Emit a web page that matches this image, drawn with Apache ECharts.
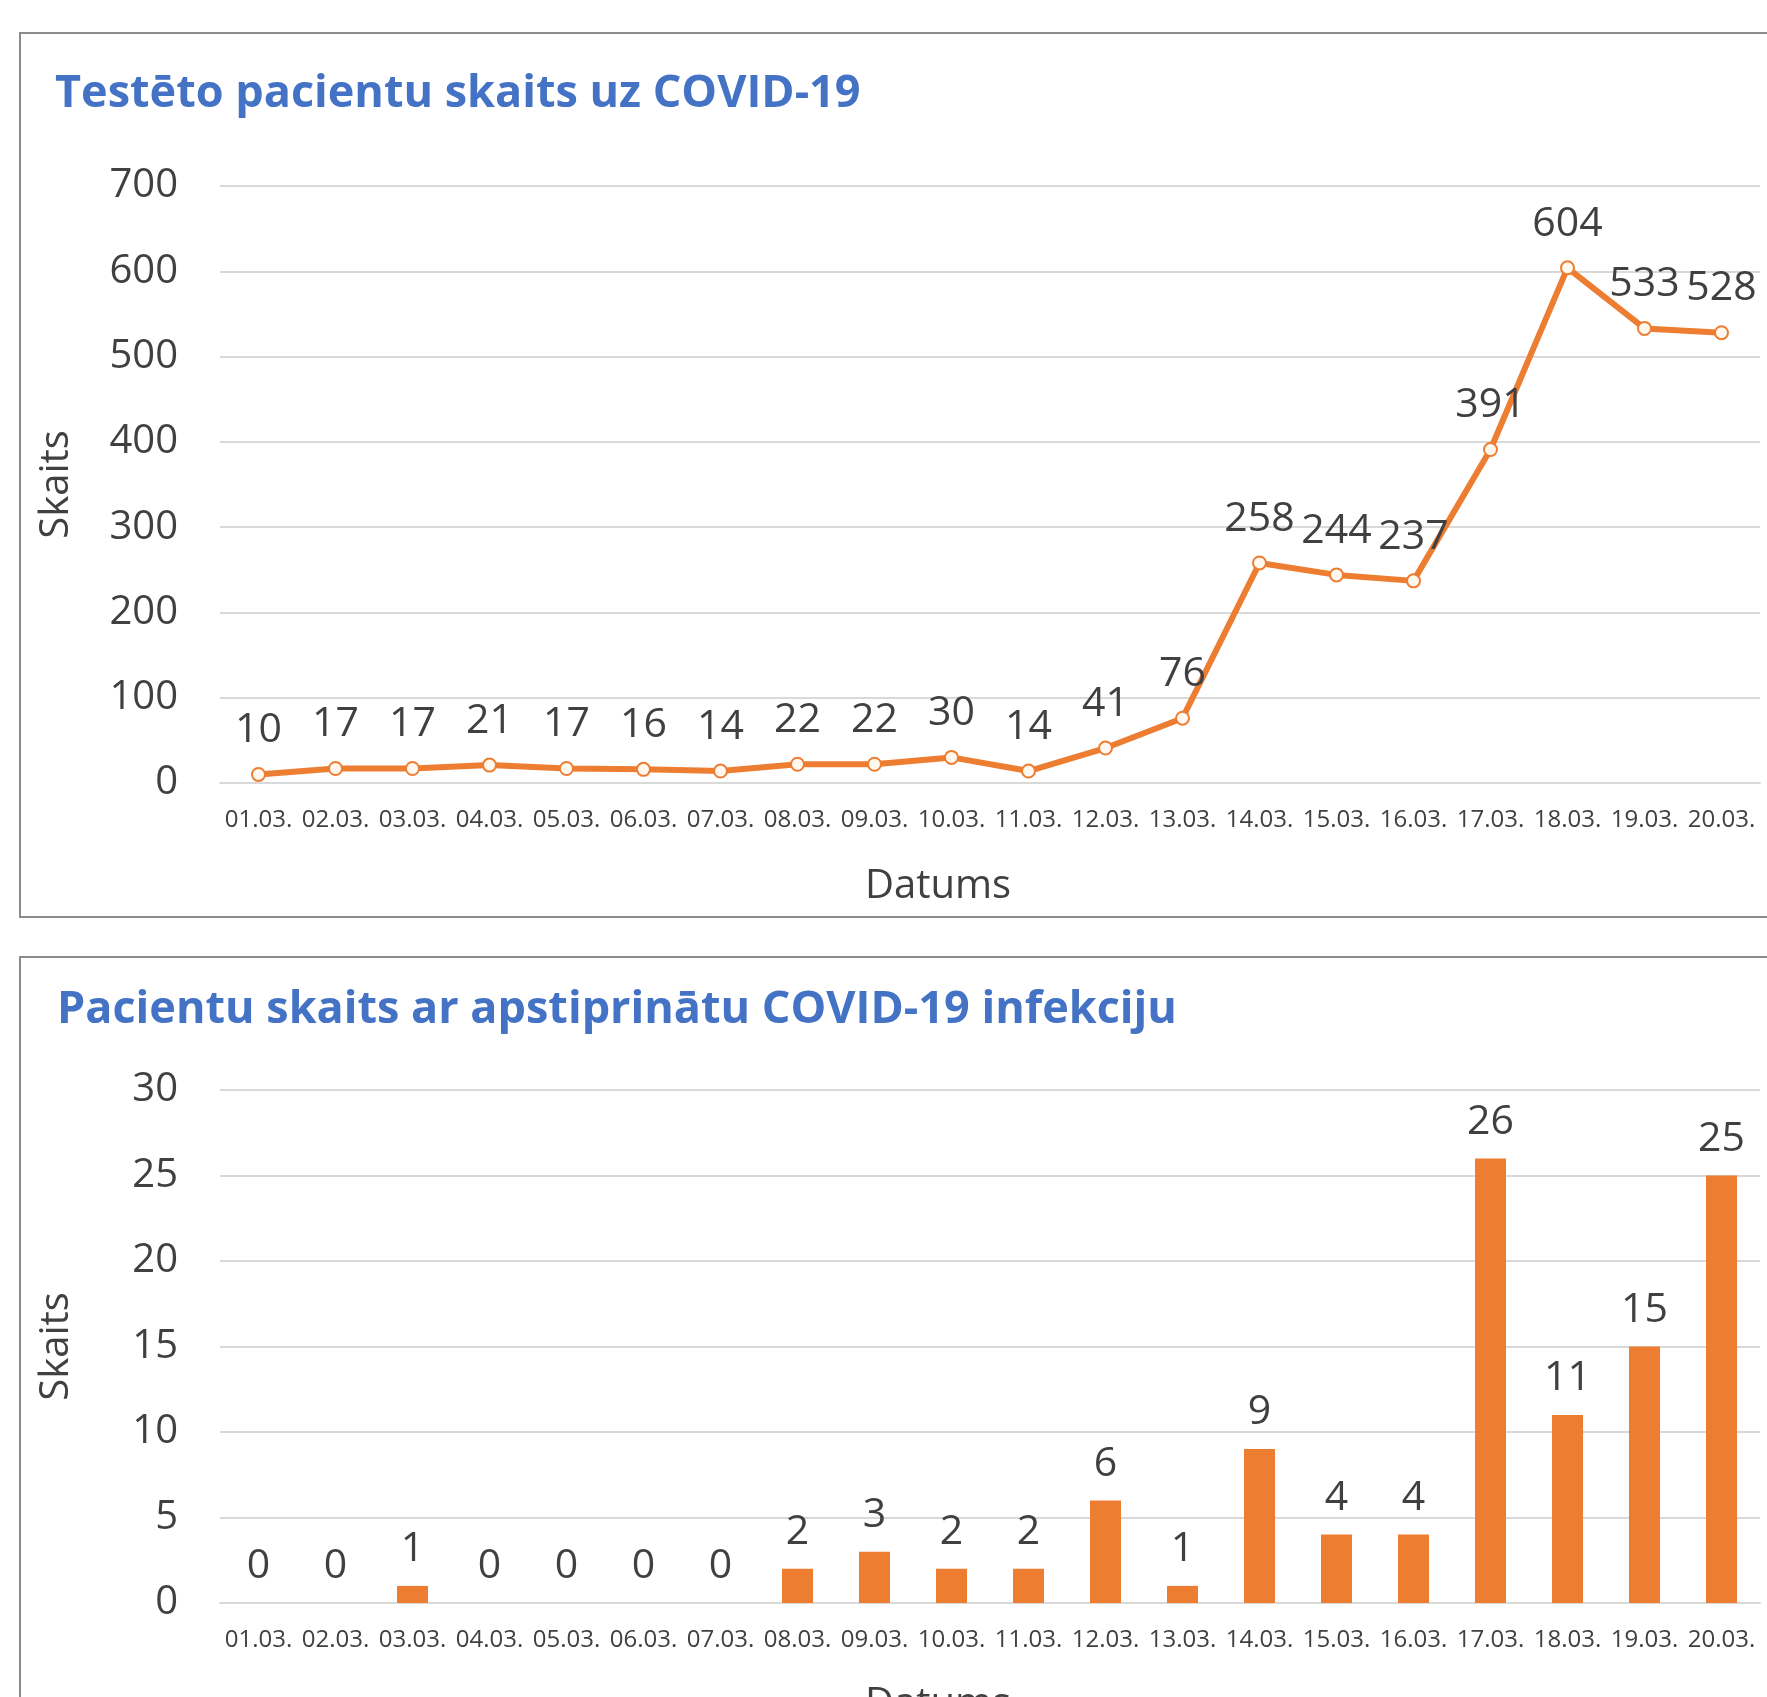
<!DOCTYPE html>
<html lang="lv" style="height: 100%">
<head>
  <meta charset="utf-8">
</head>
<body style="height: 100%; margin: 0; background: #fff">
  <div id="container" style="width: 1767px; height: 1697px;"></div>

  <script type="text/javascript" src="https://cdn.jsdelivr.net/npm/echarts@6/dist/echarts.min.js"></script>
  <script type="text/javascript">
    // datumi
    const dates = ['01.03.', '02.03.', '03.03.', '04.03.', '05.03.', '06.03.', '07.03.', '08.03.', '09.03.', '10.03.',
      '11.03.', '12.03.', '13.03.', '14.03.', '15.03.', '16.03.', '17.03.', '18.03.', '19.03.', '20.03.'];
    // testēto pacientu skaits
    const testedCounts = [10, 17, 17, 21, 17, 16, 14, 22, 22, 30, 14, 41, 76, 258, 244, 237, 391, 604, 533, 528];
    // apstiprināti gadījumi
    const confirmedCounts = [0, 0, 1, 0, 0, 0, 0, 2, 3, 2, 2, 6, 1, 9, 4, 4, 26, 11, 15, 25];

    const topTitle = 'Testēto pacientu skaits uz COVID-19';
    const bottomTitle = 'Pacientu skaits ar apstiprinātu COVID-19 infekciju';

    const FONT = '"Open Sans", sans-serif';
    const ORANGE = '#ED7D31';
    const TEXT = '#404040';
    const GRIDLINE = '#d9d9d9';

    var dom = document.getElementById('container');
    var myChart = echarts.init(dom, null, { renderer: 'canvas' });

    function xAxisFor(gridIndex, nameGap) {
      return {
        type: 'category',
        gridIndex: gridIndex,
        data: dates,
        name: 'Datums',
        nameLocation: 'middle',
        nameGap: nameGap,
        // Excel nosaukums nav centrēts pret režģi
        nameTextStyle: { color: TEXT, fontSize: 40, fontFamily: FONT, padding: [0, 104, 0, 0] },
        axisLine: { lineStyle: { color: GRIDLINE, width: 2 } },
        axisTick: { length: 10, lineStyle: { color: GRIDLINE, width: 2 } },
        axisLabel: { interval: 0, color: TEXT, fontSize: 24, fontFamily: FONT, margin: 25 }
      };
    }

    function yAxisFor(gridIndex, max, interval) {
      return {
        type: 'value',
        gridIndex: gridIndex,
        min: 0,
        max: max,
        interval: interval,
        name: 'Skaits',
        nameLocation: 'middle',
        nameGap: 143,
        nameTextStyle: { color: TEXT, fontSize: 40, fontFamily: FONT },
        axisLine: { show: false },
        axisTick: { show: false },
        axisLabel: { color: TEXT, fontSize: 40, fontFamily: FONT, margin: 42 },
        splitLine: { lineStyle: { color: GRIDLINE, width: 2 } }
      };
    }

    var option = {
      backgroundColor: '#fff',
      animation: false,
      title: [
        {
          text: topTitle, left: 50, top: 67,
          textStyle: { color: '#4472C4', fontSize: 45, fontWeight: 'bold', fontFamily: FONT }
        },
        {
          text: bottomTitle, left: 52, top: 983,
          textStyle: { color: '#4472C4', fontSize: 45, fontWeight: 'bold', fontFamily: FONT }
        }
      ],
      grid: [
        { left: 220, right: 7, top: 186, height: 597, outerBoundsMode: 'none' },
        { left: 220, right: 7, top: 1090, height: 513, outerBoundsMode: 'none' }
      ],
      xAxis: [xAxisFor(0, 84), xAxisFor(1, 82)],
      yAxis: [yAxisFor(0, 700, 100), yAxisFor(1, 30, 5)],
      graphic: [
        {
          type: 'rect', z: -1,
          shape: { x: 20, y: 33, width: 1780, height: 884 },
          style: { fill: 'none', stroke: '#8c8c8c', lineWidth: 2 }
        },
        {
          type: 'rect', z: -1,
          shape: { x: 20, y: 957, width: 1780, height: 800 },
          style: { fill: 'none', stroke: '#8c8c8c', lineWidth: 2 }
        }
      ],
      series: [
        {
          type: 'line',
          xAxisIndex: 0,
          yAxisIndex: 0,
          data: testedCounts,
          symbol: 'circle',
          symbolSize: 13,
          itemStyle: { color: '#fff8ee', borderColor: ORANGE, borderWidth: 2 },
          lineStyle: { color: ORANGE, width: 6 },
          label: {
            show: true, position: 'top', distance: 16,
            color: TEXT, fontSize: 41, fontFamily: FONT
          }
        },
        {
          type: 'bar',
          xAxisIndex: 1,
          yAxisIndex: 1,
          data: confirmedCounts,
          barWidth: 31,
          itemStyle: { color: ORANGE },
          label: {
            show: true, position: 'top', distance: 16,
            color: TEXT, fontSize: 41, fontFamily: FONT
          }
        }
      ]
    };

    myChart.setOption(option);
  </script>
</body>
</html>
